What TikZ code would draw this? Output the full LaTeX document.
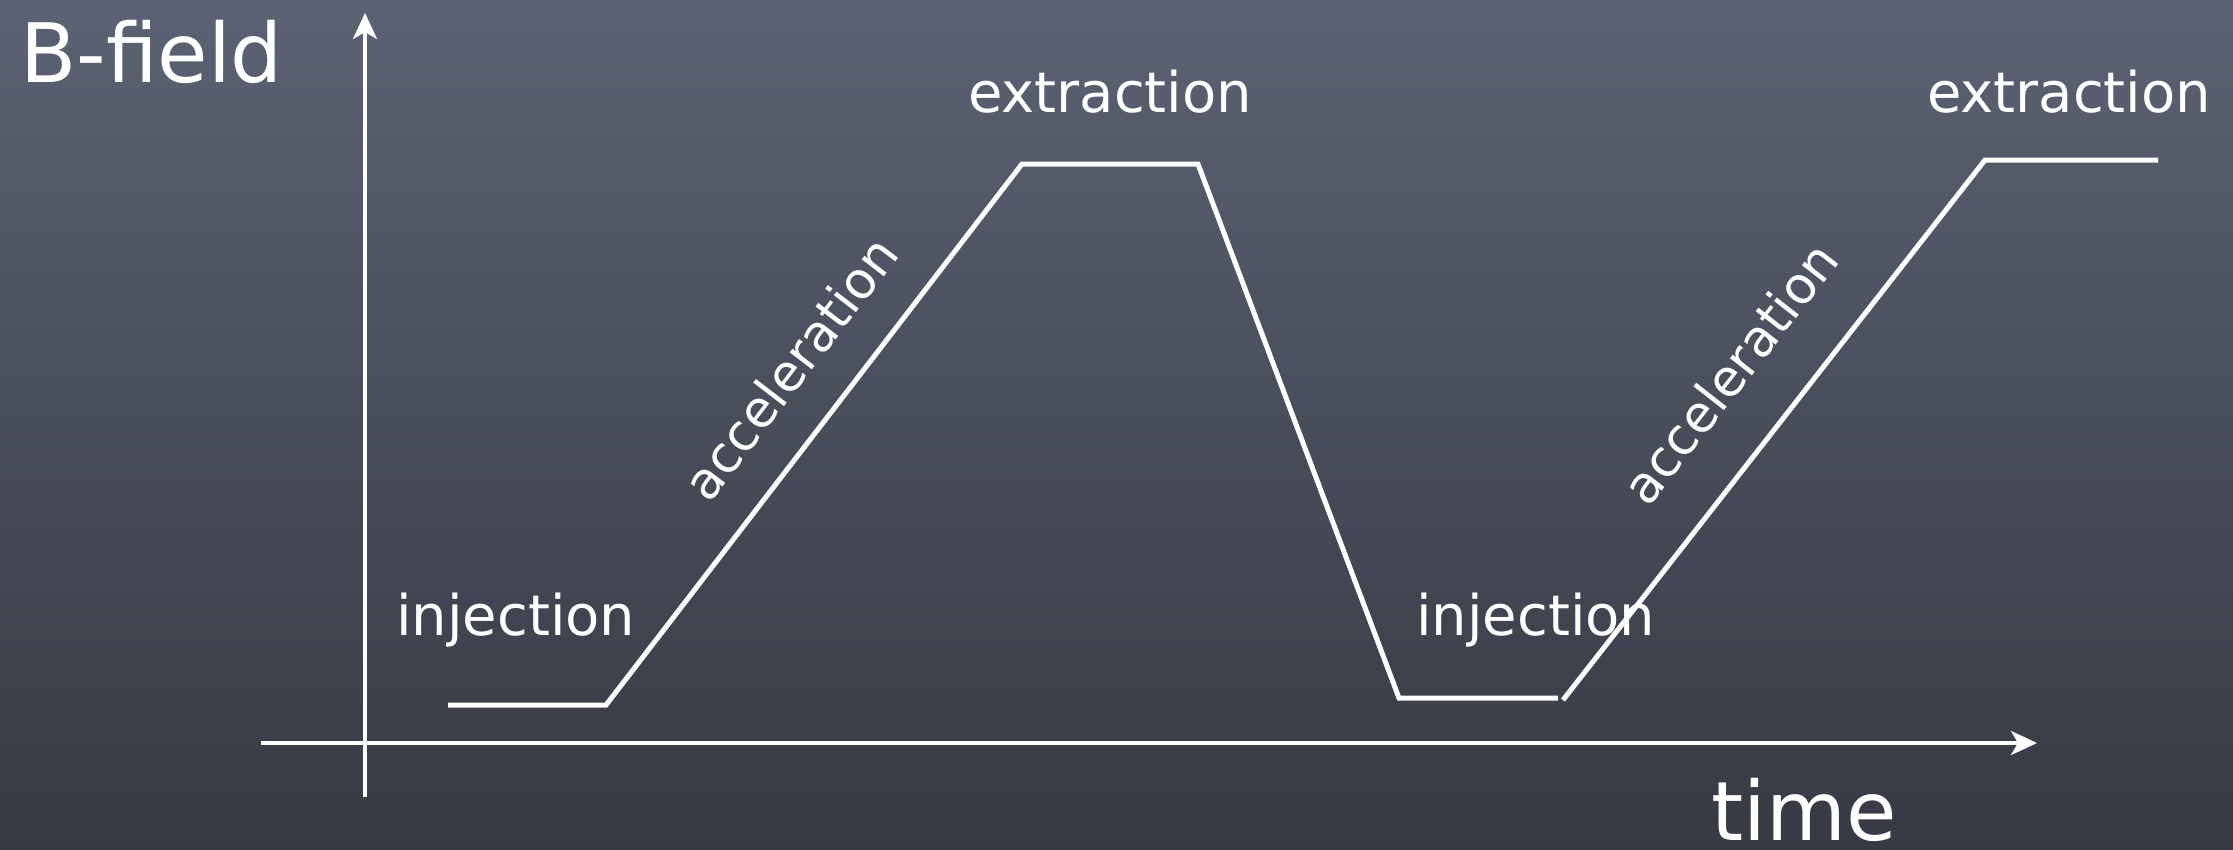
\documentclass[tikz,border=0pt]{standalone}
\usepackage{fontspec}
\setmainfont{DejaVu Sans}
\usetikzlibrary{arrows.meta}
\definecolor{boardtop}{HTML}{5B6273}
\definecolor{boardmid}{HTML}{484D5A}
\definecolor{boardbot}{HTML}{373A44}
\begin{document}
\begin{tikzpicture}[x=1pt,y=-1pt,
  curve/.style={draw=white,line width=5pt,line join=miter},
  axis/.style={draw=white,line width=4pt,-{Stealth[length=26pt,width=24pt,inset=7pt]}},
  lbl/.style={text=white,font=\fontsize{56}{60}\selectfont,inner sep=0pt},
  slant/.style={text=white,font=\fontsize{51}{56}\selectfont,inner sep=0pt},
  big/.style={text=white,font=\fontsize{82}{90}\selectfont,inner sep=0pt}]
\shade[top color=boardtop,bottom color=boardbot,middle color=boardmid] (0,0) rectangle (2233,849);
\useasboundingbox (0,0) rectangle (2233,849);
% axes
\coordinate (vb) at (365,797);
\coordinate (vt) at (365,13);
\coordinate (hl) at (261,743);
\coordinate (hr) at (2037,743);
\draw[axis] (vb) -- (vt);
\draw[axis] (hl) -- (hr);
% curve
\coordinate (p1) at (448,705);
\coordinate (p2) at (606,705);
\coordinate (p3) at (1022,164);
\coordinate (p4) at (1198,164);
\coordinate (p5) at (1399,698);
\coordinate (p6) at (1558,698);
\coordinate (p7) at (1563,700);
\coordinate (p8) at (1985,160);
\coordinate (p9) at (2158,160);
\draw[curve] (p1) -- (p2) -- (p3) -- (p4) -- (p5) -- (p6);
\draw[curve] (p7) -- (p8) -- (p9);
% labels
\node[big,anchor=base west] (bfield) at (20,82) {B-field};
\node[big,anchor=base west] (time) at (1711,840) {time};
\node[lbl,anchor=base west] (ext1) at (968,112) {extraction};
\node[lbl,anchor=base west] (ext2) at (1927,112) {extraction};
\node[lbl,anchor=base west] (inj1) at (396,635) {injection};
\node[lbl,anchor=base west] (inj2) at (1416,635) {injection};
\node[slant,rotate=52.5] (acc1) at (790,368) {acceleration};
\node[slant,rotate=52] (acc2) at (1730,373) {acceleration};
\end{tikzpicture}
\end{document}
